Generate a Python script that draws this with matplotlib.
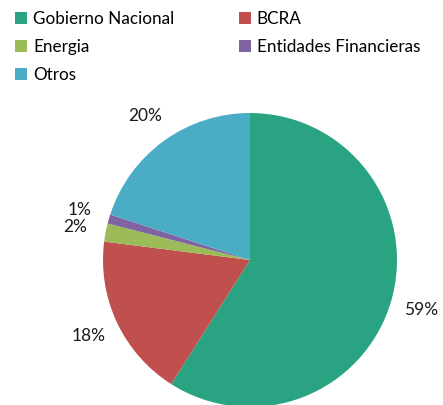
import matplotlib
matplotlib.use('Agg')
import matplotlib.pyplot as plt
from matplotlib.patches import Patch

plt.rcParams['font.family'] = ['Lato', 'DejaVu Sans']

labels = ['Gobierno Nacional', 'BCRA', 'Energia', 'Entidades Financieras', 'Otros']
values = [59, 18, 2, 1, 20]
colors = ['#2aa382', '#c0504d', '#9bbb59', '#8064a2', '#4bacc6']

fig = plt.figure(figsize=(4.43, 4.05), dpi=100)
ax = fig.add_axes([103/443, -2/405, 294/443, 294/405])

wedges, texts, autotexts = ax.pie(values, colors=colors, startangle=90, counterclock=False,
                                  autopct='%1.0f%%', pctdistance=1.21,
                                  textprops={'fontsize': 12.5, 'color': '#1a1a1a'})
ax.set_xlim(-1, 1)
ax.set_ylim(-1, 1)
ax.set_aspect('equal')

# legend fills columns first -> reorder so it reads row by row
order = [0, 2, 4, 1, 3]
handles = [Patch(facecolor=colors[i], edgecolor='none') for i in order]
fig.legend(handles, [labels[i] for i in order], loc='upper left',
           bbox_to_anchor=(0.0, 1.01), ncol=2,
           frameon=False, fontsize=12.3, handlelength=0.7, handleheight=0.7,
           handletextpad=0.35, columnspacing=3.75, labelspacing=0.68)

fig.savefig('out.png', dpi=100)
